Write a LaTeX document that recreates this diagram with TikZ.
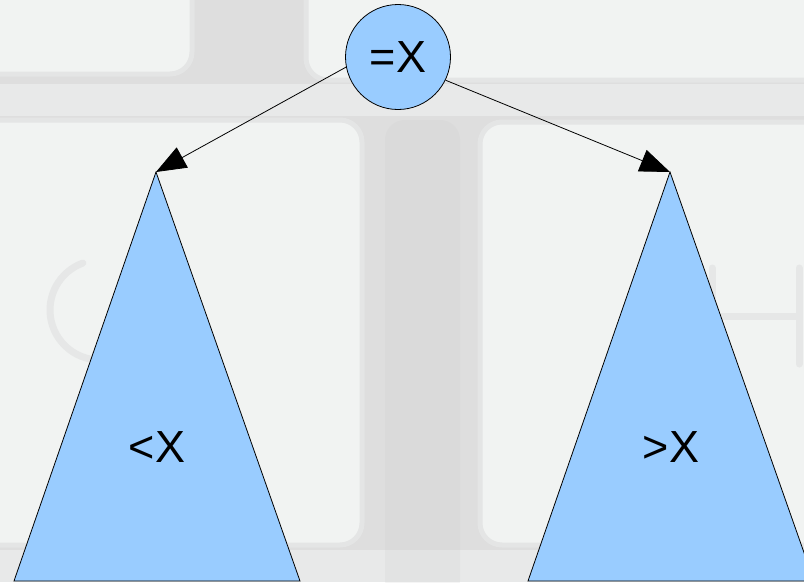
\documentclass[tikz,border=0pt]{standalone}
\usepackage{fontspec}
\setmainfont{Liberation Sans}
\usetikzlibrary{arrows.meta}
\definecolor{nodeblue}{HTML}{99CCFF}
\definecolor{gapgray}{HTML}{DEDEDE}
\definecolor{bandgray}{HTML}{E8E9E9}
\definecolor{keyface}{HTML}{F1F3F2}
\definecolor{keyedge}{HTML}{E4E5E5}
\definecolor{glyphgray}{HTML}{E6E7E7}
\tikzset{
  key/.style={fill=keyface, draw=keyedge, line width=5pt, rounded corners=22pt},
  glyph/.style={draw=glyphgray, line width=7pt, line cap=round},
  tree/.style={fill=nodeblue, draw=black, line width=0.8pt, line join=miter},
  rootnode/.style={circle, fill=nodeblue, draw=black, line width=0.8pt, minimum size=105pt, inner sep=0pt, font=\fontsize{45}{45}\selectfont},
  lbl/.style={font=\fontsize{45}{45}\selectfont, inner sep=0pt},
  link/.style={draw=black, line width=0.8pt, -{Triangle[length=30pt,width=23pt]}}
}
\begin{document}
\begin{tikzpicture}[x=1pt,y=-1pt]
\useasboundingbox (0,0) rectangle (804,582);
\begin{scope}
\clip (0,0) rectangle (804,582);
% background photo of keys
\fill[gapgray] (0,0) rectangle (804,582);
\fill[bandgray] (0,84) rectangle (804,116);
\fill[bandgray] (0,550) rectangle (804,582);
\draw[key] (-40,-40) rectangle (192,74);
\draw[key] (306,-40) rectangle (850,80);
\draw[key] (-40,120) rectangle (362,545);
\draw[key] (480,122) rectangle (850,545);
\fill[gapgray!90!black, opacity=0.18, rounded corners=20pt] (385,120) rectangle (460,600);
% faint key letters
\draw[glyph] (100,310) ++(78:50) arc[start angle=78, end angle=250, radius=50];
\draw[glyph] (712,268) -- (712,362);
\draw[glyph] (712,316) -- (797,316);
\draw[glyph] (799,268) -- (799,364);
\end{scope}
% diagram
\node[rootnode] (root) at (398,57) {=X};
\coordinate (ltop) at (156,172);
\coordinate (lbl) at (14,581);
\coordinate (lbr) at (300,581);
\coordinate (rtop) at (670,172);
\coordinate (rbl) at (528,581);
\coordinate (rbr) at (814,581);
\path[tree] (ltop) -- (lbr) -- (lbl) -- cycle;
\path[tree] (rtop) -- (rbr) -- (rbl) -- cycle;
\node[lbl] (lless) at (157,447) {<X};
\node[lbl] (rmore) at (671,447) {>X};
\draw[link] (root.191) -- (ltop);
\draw[link] (root.-26) -- (rtop);
\end{tikzpicture}
\end{document}
